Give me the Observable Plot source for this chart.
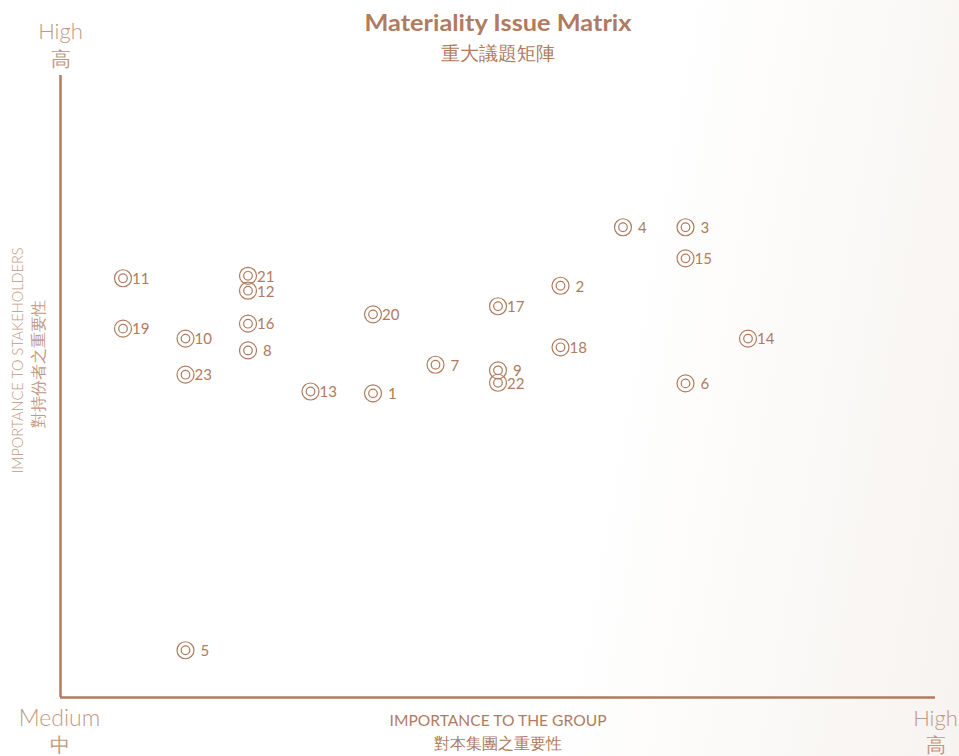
<!DOCTYPE html>
<html>
<head>
<meta charset="utf-8">
<script src="https://cdn.jsdelivr.net/npm/d3@7"></script>
<script src="https://cdn.jsdelivr.net/npm/@observablehq/plot@0.6"></script>
<style>
  html, body { margin: 0; padding: 0; }
  body { width: 959px; height: 756px; overflow: hidden;
    background: linear-gradient(100deg, #ffffff 0%, #ffffff 62%, #fbf9f7 82%, #f6f3f0 100%); }
</style>
</head>
<body>
<div id="chart"></div>
<script>
// Issue numbers
const issues = [1, 2, 3, 4, 5, 6, 7, 8, 9, 10, 11, 12, 13, 14, 15, 16, 17, 18, 19, 20, 21, 22, 23];
// Importance to the group (horizontal)
const groupImportance = [5, 8, 10, 9, 2, 10, 6, 3, 7, 2, 1, 3, 4, 11, 10, 3, 7, 8, 1, 5, 3, 7, 2];
// Importance to stakeholders (vertical)
const stakeholderImportance = [48.9, 66.2, 75.6, 75.6, 7.6, 50.5, 53.5, 55.8, 52.6, 57.7, 67.4, 65.4, 49.2, 57.7, 70.6, 60.1, 62.9, 56.3, 59.3, 61.6, 67.8, 50.6, 51.9];

const titleEn = "Materiality Issue Matrix";
const titleZh = "重大議題矩陣";
const xTitleEn = "IMPORTANCE TO THE GROUP";
const xTitleZh = "對本集團之重要性";
const yTitleEn = "IMPORTANCE TO STAKEHOLDERS";
const yTitleZh = "對持份者之重要性";
const lowEn = "Medium", lowZh = "中";
const highEn = "High", highZh = "高";

const data = issues.map((id, i) => ({id, x: groupImportance[i], y: stakeholderImportance[i], label: String(id)}));

const brown = "#b07b5e";
const light = "#c29883";
const font = "Lato, 'Open Sans', sans-serif";

const T = (txt, o) => Plot.text([txt], {lineAnchor: "middle", textAnchor: "middle", ...o});

const chart = Plot.plot({
  width: 959,
  height: 756,
  marginLeft: 60,
  marginRight: 24,
  marginTop: 75,
  marginBottom: 59,
  style: {background: "transparent", fontFamily: font},
  x: {domain: [0, 14], axis: null},
  y: {domain: [0, 100], axis: null},
  marks: [
    Plot.ruleX([0], {stroke: brown, strokeWidth: 2.5}),
    Plot.ruleY([0], {stroke: brown, strokeWidth: 2.5}),
    Plot.dot(data, {x: "x", y: "y", r: 8.5, stroke: brown, strokeWidth: 1.2, fill: "none"}),
    Plot.dot(data, {x: "x", y: "y", r: 4.3, stroke: brown, strokeWidth: 1.2, fill: "none"}),
    Plot.text(data.filter(d => d.label.length > 1), {x: "x", y: "y", text: "label", textAnchor: "start", dx: 9, dy: 1, fill: brown, fontSize: 15}),
    Plot.text(data.filter(d => d.label.length === 1), {x: "x", y: "y", text: "label", textAnchor: "start", dx: 15, dy: 1, fill: brown, fontSize: 15}),
    // Title
    T(titleEn, {frameAnchor: "top", dy: -52, fill: brown, fontSize: 22, fontWeight: "bold"}),
    T(titleZh, {frameAnchor: "top", dy: -22, fill: brown, fontSize: 19, fontWeight: 500}),
    // Top-left High
    T(highEn, {frameAnchor: "top-left", dy: -44, fill: light, fontSize: 22, fontWeight: 300}),
    T(highZh, {frameAnchor: "top-left", dy: -16, fill: light, fontSize: 20, fontWeight: 300}),
    // Bottom-left Medium
    T(lowEn, {frameAnchor: "bottom-left", dx: -1, dy: 21, fill: light, fontSize: 23, fontWeight: 300}),
    T(lowZh, {frameAnchor: "bottom-left", dx: -1, dy: 48, fill: light, fontSize: 20, fontWeight: 300}),
    // Bottom-right High
    T(highEn, {frameAnchor: "bottom-right", dy: 21, fill: light, fontSize: 22, fontWeight: 300}),
    T(highZh, {frameAnchor: "bottom-right", dy: 48, fill: light, fontSize: 20, fontWeight: 300}),
    // Axis titles
    T(xTitleEn, {frameAnchor: "bottom", dy: 24, fill: brown, fontSize: 15}),
    T(xTitleZh, {frameAnchor: "bottom", dy: 46, fill: brown, fontSize: 16}),
    T(yTitleEn, {frameAnchor: "left", rotate: -90, dx: -42, dy: -26, fill: light, fontSize: 15, fontWeight: 300}),
    T(yTitleZh, {frameAnchor: "left", rotate: -90, dx: -22, dy: -23, fill: light, fontSize: 16, fontWeight: 300})
  ]
});

// Fit text widths to the reference
const widths = new Map([[titleEn, 267], [xTitleEn, 217], [yTitleEn, 226]]);
d3.select(chart).selectAll("text").each(function() {
  const w = widths.get(this.textContent);
  if (w) { this.setAttribute("textLength", w); this.setAttribute("lengthAdjust", "spacingAndGlyphs"); }
});

document.getElementById("chart").appendChild(chart);
</script>
</body>
</html>
